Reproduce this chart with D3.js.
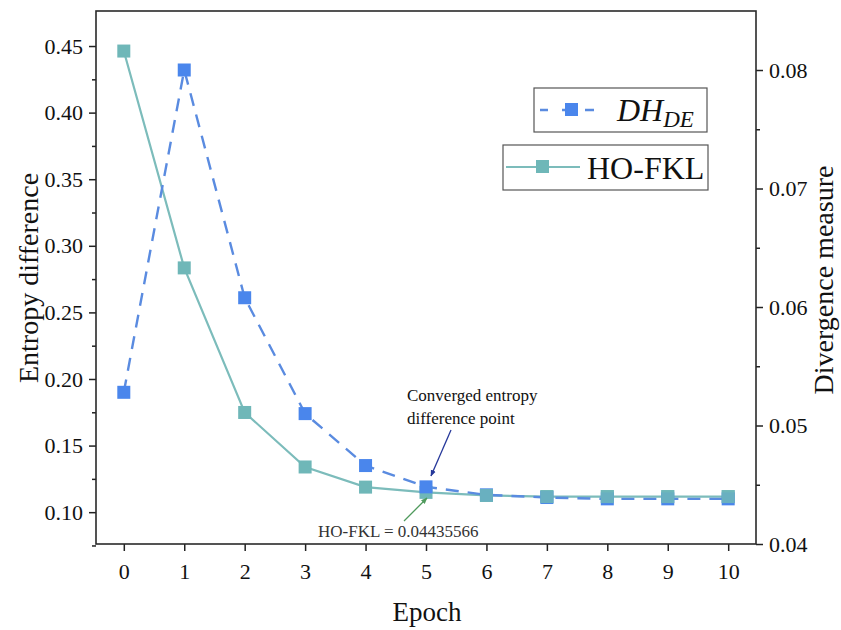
<!DOCTYPE html>
<html>
<head>
<meta charset="utf-8">
<script src="https://cdn.jsdelivr.net/npm/d3@7"></script>
<style>
  html, body { margin: 0; padding: 0; background: #fff; }
  svg { display: block; }
</style>
</head>
<body>
<svg id="chart" width="841" height="630"></svg>
<script>
// Epochs on the x axis
const epochs = [0, 1, 2, 3, 4, 5, 6, 7, 8, 9, 10];
// Entropy difference (left axis)
const dhDE = [0.190, 0.432, 0.261, 0.174, 0.135, 0.119, 0.113, 0.111, 0.110, 0.110, 0.110];
// Divergence measure (right axis)
const hoFKL = [0.0816, 0.0633, 0.0511, 0.0465, 0.0448, 0.04435566, 0.0441, 0.0440, 0.0440, 0.0440, 0.0440];

const leftTicks = [0.10, 0.15, 0.20, 0.25, 0.30, 0.35, 0.40, 0.45];
const leftMinor = [0.075, 0.125, 0.175, 0.225, 0.275, 0.325, 0.375, 0.425];
const rightTicks = [0.04, 0.05, 0.06, 0.07, 0.08];
const rightMinor = [0.045, 0.055, 0.065, 0.075];

const SERIF = "'Liberation Serif', 'Times New Roman', Tinos, serif";

const svg = d3.select("#chart").attr("font-family", SERIF);
const m = { left: 96, right: 756, top: 11, bottom: 544 };

const x = d3.scaleLinear().domain([-0.46, 10.46]).range([m.left, m.right]);
const yL = d3.scaleLinear().domain([0.0761, 0.4763]).range([m.bottom, m.top]);
const yR = d3.scaleLinear().domain([0.04, 0.08498]).range([m.bottom, m.top]);

const blue = "#4a86ec", blueLine = "#5a8be0";
const teal = "#6fb7b8", tealLine = "#7cbcbb";

// Axes
const fontTick = "22px";
const bottomAxis = svg.append("g").attr("transform", `translate(0,${m.bottom})`)
  .call(d3.axisBottom(x).tickValues(epochs).tickFormat(d3.format("d")).tickSize(7).tickSizeOuter(0));
bottomAxis.selectAll("text").attr("dy", "1.15em");

const leftAxis = svg.append("g").attr("transform", `translate(${m.left},0)`)
  .call(d3.axisLeft(yL).tickValues(leftTicks).tickFormat(d3.format(".2f")).tickSize(7).tickSizeOuter(0));
leftAxis.selectAll("text").attr("x", -13);
svg.append("g").attr("transform", `translate(${m.left},0)`)
  .call(d3.axisLeft(yL).tickValues(leftMinor).tickFormat("").tickSize(4).tickSizeOuter(0));

const rightAxis = svg.append("g").attr("transform", `translate(${m.right},0)`)
  .call(d3.axisRight(yR).tickValues(rightTicks).tickFormat(d3.format(".2f")).tickSize(7).tickSizeOuter(0));
rightAxis.selectAll("text").attr("x", 13);
svg.append("g").attr("transform", `translate(${m.right},0)`)
  .call(d3.axisRight(yR).tickValues(rightMinor).tickFormat("").tickSize(4).tickSizeOuter(0));

svg.selectAll("g").attr("font-family", SERIF).attr("font-size", fontTick);
svg.selectAll(".tick text").attr("fill", "#111");
svg.selectAll(".domain").remove();
svg.selectAll(".tick line").attr("stroke", "#222").attr("stroke-width", 1.5);

// Frame
svg.append("rect").attr("x", m.left).attr("y", m.top)
  .attr("width", m.right - m.left).attr("height", m.bottom - m.top)
  .attr("fill", "none").attr("stroke", "#2a2a2a").attr("stroke-width", 1.6);

// Axis titles
svg.append("text").attr("transform", "translate(38,278) rotate(-90)")
  .attr("text-anchor", "middle").attr("font-size", 28).attr("fill", "#111").text("Entropy difference");
svg.append("text").attr("transform", "translate(833,280) rotate(-90)")
  .attr("text-anchor", "middle").attr("font-size", 28).attr("fill", "#111").text("Divergence measure");
svg.append("text").attr("x", (m.left + m.right) / 2 + 1).attr("y", 621)
  .attr("text-anchor", "middle").attr("font-size", 27).attr("fill", "#111").text("Epoch");

// Series
const lineL = d3.line().x((d, i) => x(epochs[i])).y(d => yL(d));
const lineR = d3.line().x((d, i) => x(epochs[i])).y(d => yR(d));

svg.append("path").datum(hoFKL).attr("d", lineR)
  .attr("fill", "none").attr("stroke", tealLine).attr("stroke-width", 2.2);
svg.append("path").datum(dhDE).attr("d", lineL)
  .attr("fill", "none").attr("stroke", blueLine).attr("stroke-width", 2.4)
  .attr("stroke-dasharray", "13,9");

const ms = 13;
svg.append("g").selectAll("rect").data(hoFKL).join("rect")
  .attr("x", (d, i) => x(epochs[i]) - ms / 2).attr("y", d => yR(d) - ms / 2)
  .attr("width", ms).attr("height", ms).attr("fill", teal);
svg.append("g").selectAll("rect").data(dhDE).join("rect")
  .attr("x", (d, i) => x(epochs[i]) - ms / 2).attr("y", d => yL(d) - ms / 2)
  .attr("width", ms).attr("height", ms).attr("fill", blue);
// Teal markers drawn on top where the curves meet
svg.append("g").selectAll("rect").data(hoFKL.slice(6)).join("rect")
  .attr("x", (d, i) => x(epochs[i + 6]) - ms / 2).attr("y", d => yR(d) - ms / 2)
  .attr("width", ms).attr("height", ms).attr("fill", teal).attr("opacity", 0.85);

// Legend
const leg1 = svg.append("g");
leg1.append("rect").attr("x", 534).attr("y", 88).attr("width", 173).attr("height", 44)
  .attr("fill", "#fff").attr("stroke", "#555").attr("stroke-width", 1.2);
leg1.append("line").attr("x1", 540).attr("x2", 602).attr("y1", 110).attr("y2", 110)
  .attr("stroke", blueLine).attr("stroke-width", 2.4).attr("stroke-dasharray", "9,14").attr("stroke-dashoffset", 1);
leg1.append("rect").attr("x", 565).attr("y", 103).attr("width", 13).attr("height", 13).attr("fill", blue);
const t1 = leg1.append("text").attr("x", 617).attr("y", 121).attr("font-size", 32)
  .attr("font-style", "italic").attr("fill", "#111");
t1.append("tspan").text("DH");
t1.append("tspan").attr("dy", 6).attr("font-size", 23).text("DE");

const leg2 = svg.append("g");
leg2.append("rect").attr("x", 503).attr("y", 145).attr("width", 205).attr("height", 45)
  .attr("fill", "#fff").attr("stroke", "#555").attr("stroke-width", 1.2);
leg2.append("line").attr("x1", 506).attr("x2", 580).attr("y1", 167).attr("y2", 167)
  .attr("stroke", tealLine).attr("stroke-width", 2.2);
leg2.append("rect").attr("x", 536).attr("y", 160).attr("width", 13).attr("height", 13).attr("fill", teal);
leg2.append("text").attr("x", 587).attr("y", 179).attr("font-size", 32).attr("fill", "#111").text("HO-FKL");

// Annotations
svg.append("defs").html(`
  <marker id="headBlue" viewBox="0 0 10 10" refX="9" refY="5" markerWidth="5" markerHeight="6" orient="auto">
    <path d="M0,1 L10,5 L0,9 z" fill="#26389a"/></marker>
  <marker id="headGreen" viewBox="0 0 10 10" refX="9" refY="5" markerWidth="5" markerHeight="6" orient="auto">
    <path d="M0,1 L10,5 L0,9 z" fill="#4f9a5c"/></marker>`);

svg.append("text").attr("x", 407).attr("y", 401).attr("font-size", 17).attr("fill", "#111").text("Converged entropy");
svg.append("text").attr("x", 407).attr("y", 424).attr("font-size", 17).attr("fill", "#111").text("difference point");
svg.append("line").attr("x1", 451).attr("y1", 430).attr("x2", 431).attr("y2", 476)
  .attr("stroke", "#26389a").attr("stroke-width", 1.3).attr("marker-end", "url(#headBlue)");

svg.append("line").attr("x1", 404).attr("y1", 521).attr("x2", 427).attr("y2", 498)
  .attr("stroke", "#4f9a5c").attr("stroke-width", 1.3).attr("marker-end", "url(#headGreen)");
svg.append("text").attr("x", 318).attr("y", 537).attr("font-size", 17).attr("fill", "#333")
  .text("HO-FKL = " + hoFKL[5]);
</script>
</body>
</html>
